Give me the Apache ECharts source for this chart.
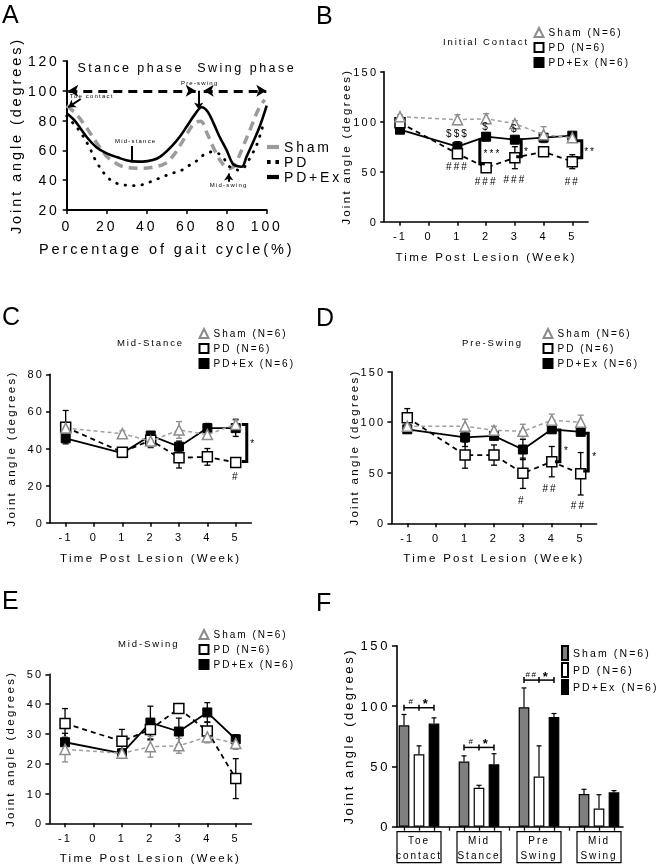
<!DOCTYPE html>
<html><head><meta charset="utf-8">
<script src="https://cdn.jsdelivr.net/npm/echarts@6/dist/echarts.min.js"></script>
<style>
html,body{margin:0;padding:0;background:#fff;}
#chart{width:660px;height:866px;}
#chart svg{will-change:transform;}
#chart text{letter-spacing:0.2em;}
</style></head><body><div id="chart"></div>
<script>
// ================= DATA =================
// Panel A: joint angle over the gait cycle
const pctShamA = [0,5,10,15,20,25,30,37,44,49,53,57,61,64,67,70,74,78,81.5,84,88,92,96,99];
const angShamA = [90,84,75,65,56,51,48.5,48,49,51,56,64,73,78.5,79.5,72,60,51,48,50,62,75,88,94];
const pctPdA = [0,4,7,11,15,20,24,28,33,37,41,45,49,53.5,58,61,65,68.5,72.5,76,78.5,81.5,86,89,92,95,98];
const angPdA = [83,77,72,63,52,42.5,38.5,37,36.3,36.7,38.5,40.6,42.8,45,47,49.7,53,57,59,57.8,54.7,49,46.8,49,55.8,63.6,76];
const pctExA = [0,4,10,15,20,25,32,38,43,47,53,57,60,64,67.5,70.5,73.5,76.5,80,83,85,87.5,90,93,96.5,100];
const angExA = [85,80,69,62,58,55.5,52.8,52.5,53.5,56,63.5,70,76,84,89,86,78,69,60,51,49.5,49,56,65,76,90];

// Panels B-E: weekly joint angles (mean, SEM)
const weekTicks = [-1,0,1,2,3,4,5];
const weeks = [-1,1,2,3,4,5];
const shamB = [105,102,103,98,87,84], shamErrB = [2,5,5,3,8,3];
const pdB   = [99,68,54,64,70,60],    pdErrB   = [3,3,3,11,4,7];
const exB   = [92,75,85,82,84,86],    exErrB   = [3,5,4,3,2,3];
const shamC = [51,48,44,50,47.5,53],  shamErrC = [2,1.5,3,4.5,2,3];
const pdC   = [51.5,38,44.5,35,35.5,32.5], pdErrC = [9,2,4,5.5,4.5,1.5];
const exC   = [45.5,37.5,47,41,51,51], exErrC = [2,2,2,3,2.5,4.5];
const shamD = [96,96,92,91,102,100],  shamErrD = [3,7,4,7,6,7];
const pdD   = [104.5,67.5,67.5,49.5,61,49], pdErrD = [9,13,10,15,15,21];
const exD   = [93,85,86.5,73,93,90.5], exErrD = [3,9,3,10,2,3];
const shamE = [24.8,23.5,25.7,26,29,26.8], shamErrE = [4.2,1.5,3.5,2.5,2,2];
const pdE   = [33.5,27.5,31.5,38.5,31,15],  pdErrE   = [5,4,3.5,1,3,6.7];
const exE   = [27.2,23.5,33.8,30.8,37.2,28.2], exErrE = [3,1.5,5.5,4.5,3.3,1.5];

// Panel F: bars
const catsF = ['Toe contact','Mid Stance','Pre Swing','Mid Swing'];
const shamF = [84,54,99,27],     shamErrF = [9,4.7,16,4];
const pdF   = [60,32.3,41.5,15], pdErrF   = [7,2,25.5,11.5];
const exF   = [85.5,51.7,91,28.5], exErrF = [4.7,8.8,2.8,1.4];

// Significance annotations (data coordinates)
const bracketsB = [[1.78,82,58,1],[3.22,82,65,-1],[5.33,81,64,-1]];
const bracketsC = [[5.39,53,33,-1]];
const bracketsD = [[4.28,92.3,61,-1],[5.26,89,51.8,-1]];
const notesB = [[1,88,'$$$'],[2,95,'$'],[3,93,'$'],[1,55,'###'],[2,40,'###'],[3,42,'###'],[5,40,'##'],[2.22,68.5,'***'],[3.42,70,'*'],[5.62,70,'**']];
const notesC = [[5.62,42.5,'*'],[5.0,25,'#']];
const notesD = [[4.52,72,'*'],[5.5,66,'*'],[2.96,23,'#'],[3.94,34.6,'##'],[4.92,18,'##']];
const sigF = [[0,98.6,'#','*'],[1,65.7,'#','*'],[2,121.5,'##','*']];
const textsA = [[32,115,'Stance phase',12.5],[90,115,'Swing phase',12.5],[66.5,105.5,'Pre-swing',6],[1.5,96.5,'Toe contact',6,'left'],[34.5,66,'Mid-stance',6],[81,36.5,'Mid-swing',6]];

// ================= CHART =================
const FONT = '"Liberation Sans", Arial, Helvetica, sans-serif';
const zip = (xs, ys) => xs.map((x, i) => [x, ys[i]]);
const chart = echarts.init(document.getElementById('chart'), null, {renderer: 'svg'});

function xAxisLine(grid, o) {
  return Object.assign({
    gridIndex: grid, type: 'value', position: 'bottom',
    axisLine: {show: true, onZero: false, lineStyle: {color: '#000', width: 1.6}},
    axisTick: {show: true, length: 4, lineStyle: {color: '#000', width: 1.5}},
    axisLabel: {color: '#000', fontFamily: FONT, fontSize: 11, margin: 9},
    splitLine: {show: false},
    nameLocation: 'middle', nameMoveOverlap: false,
    nameTextStyle: {color: '#000', fontFamily: FONT, fontSize: 11.5}
  }, o);
}
function yAxisLine(grid, o) {
  return Object.assign({
    gridIndex: grid, type: 'value', position: 'left',
    axisLine: {show: true, onZero: false, lineStyle: {color: '#000', width: 1.6}},
    axisTick: {show: true, length: 4, lineStyle: {color: '#000', width: 1.5}},
    axisLabel: {color: '#000', fontFamily: FONT, fontSize: 11, margin: 6},
    splitLine: {show: false},
    name: 'Joint angle (degrees)', nameLocation: 'middle', nameGap: 32, nameMoveOverlap: false,
    nameTextStyle: {color: '#000', fontFamily: FONT, fontSize: 11.5}
  }, o);
}
function weekX(grid) {
  return xAxisLine(grid, {
    min: -1.55, max: 5.55,
    axisTick: {show: true, length: 4, customValues: weekTicks, lineStyle: {color: '#000', width: 1.5}},
    axisLabel: {color: '#000', fontFamily: FONT, fontSize: 11, margin: 9, customValues: weekTicks},
    name: 'Time Post Lesion (Week)', nameGap: 29
  });
}

function errSeries(ax, xs, ys, es, color) {
  return {
    type: 'custom', xAxisIndex: ax, yAxisIndex: ax, silent: true, z: 1, clip: false,
    data: xs.map((x, i) => [x, ys[i] - es[i], ys[i] + es[i]]),
    renderItem: (p, api) => {
      const x = api.value(0);
      const a = api.coord([x, api.value(1)]), b = api.coord([x, api.value(2)]);
      const w = 3, st = {stroke: color, lineWidth: 1.3};
      return {type: 'group', children: [
        {type: 'line', shape: {x1: a[0], y1: a[1], x2: b[0], y2: b[1]}, style: st},
        {type: 'line', shape: {x1: a[0] - w, y1: a[1], x2: a[0] + w, y2: a[1]}, style: st},
        {type: 'line', shape: {x1: b[0] - w, y1: b[1], x2: b[0] + w, y2: b[1]}, style: st}
      ]};
    }
  };
}
function textSeries(ax, items) {
  return {
    type: 'custom', xAxisIndex: ax, yAxisIndex: ax, silent: true, z: 10, clip: false,
    data: items.map(t => [t[0], t[1]]),
    renderItem: (p, api) => {
      const t = items[p.dataIndex];
      const c = api.coord([api.value(0), api.value(1)]);
      return {type: 'text', x: c[0], y: c[1], style: {
        text: t[2], fill: '#000', font: 'normal ' + (t[3] || 10) + 'px ' + FONT,
        textAlign: t[4] || 'center', textVerticalAlign: 'middle'}};
    }
  };
}
function bracketSeries(ax, items) {
  return {
    type: 'custom', xAxisIndex: ax, yAxisIndex: ax, silent: true, z: 9, clip: false,
    data: items.map(t => [t[0], t[1], t[2]]),
    renderItem: (p, api) => {
      const d = items[p.dataIndex][3];
      const t = api.coord([api.value(0), api.value(1)]), b = api.coord([api.value(0), api.value(2)]);
      return {type: 'polyline', shape: {points: [[t[0] + 5 * d, t[1]], [t[0], t[1]], [b[0], b[1]], [b[0] + 5 * d, b[1]]]},
        style: {stroke: '#000', lineWidth: 3, fill: 'none', lineJoin: 'miter'}};
    }
  };
}
function panelSeries(P, ax, sham, shamE, pd, pdE, ex, exE) {
  return [
    errSeries(ax, weeks, ex, exE, '#000'),
    errSeries(ax, weeks, pd, pdE, '#000'),
    errSeries(ax, weeks, sham, shamE, '#8c8c8c'),
    {type: 'line', name: P + '|PD+Ex (N=6)', xAxisIndex: ax, yAxisIndex: ax, data: zip(weeks, ex),
      symbol: 'rect', symbolSize: 9, z: 3,
      itemStyle: {color: '#000', borderColor: '#000', borderWidth: 1},
      lineStyle: {color: '#000', width: 1.8}},
    {type: 'line', name: P + '|PD (N=6)', xAxisIndex: ax, yAxisIndex: ax, data: zip(weeks, pd),
      symbol: 'rect', symbolSize: 10, z: 4,
      itemStyle: {color: '#fff', borderColor: '#000', borderWidth: 1.5},
      lineStyle: {color: '#000', width: 1.8, type: [5, 4]}},
    {type: 'line', name: P + '|Sham (N=6)', xAxisIndex: ax, yAxisIndex: ax, data: zip(weeks, sham),
      symbol: 'triangle', symbolSize: 10, z: 5,
      itemStyle: {color: '#fff', borderColor: '#8c8c8c', borderWidth: 1.5},
      lineStyle: {color: '#a0a0a0', width: 1.5, type: [4, 3]}}
  ];
}
function lineLegend(P, left, top) {
  return {left: left, top: top, orient: 'vertical', itemWidth: 9, itemHeight: 9, itemGap: 4, padding: 0,
    selectedMode: false, formatter: n => n.split('|')[1],
    textStyle: {color: '#000', fontFamily: FONT, fontSize: 10},
    data: [{name: P + '|Sham (N=6)', icon: 'triangle'}, {name: P + '|PD (N=6)', icon: 'rect'}, {name: P + '|PD+Ex (N=6)', icon: 'rect'}]};
}

// F helpers
function errSeriesF(k, ys, es) {
  return {
    type: 'custom', xAxisIndex: 5, yAxisIndex: 5, silent: true, z: 3, clip: false,
    data: ys.map((y, i) => [i, y, y + es[i]]),
    renderItem: (p, api) => {
      const band = api.size([1, 0])[0];
      const a = api.coord([api.value(0), api.value(1)]), b = api.coord([api.value(0), api.value(2)]);
      const x = a[0] + k * band * 0.25, w = 2.5, st = {stroke: '#000', lineWidth: 1.2};
      return {type: 'group', children: [
        {type: 'line', shape: {x1: x, y1: a[1], x2: x, y2: b[1]}, style: st},
        {type: 'line', shape: {x1: x - w, y1: b[1], x2: x + w, y2: b[1]}, style: st}
      ]};
    }
  };
}
const sigSeriesF = {
  type: 'custom', xAxisIndex: 5, yAxisIndex: 5, silent: true, z: 8, clip: false,
  data: sigF.map(s => [s[0], s[1]]),
  renderItem: (p, api) => {
    const s = sigF[p.dataIndex];
    const band = api.size([1, 0])[0];
    const c = api.coord([api.value(0), api.value(1)]);
    const xs = c[0] - band * 0.25, xm = c[0], xe = c[0] + band * 0.25, y = c[1];
    const st = {stroke: '#000', lineWidth: 1.5};
    return {type: 'group', children: [
      {type: 'line', shape: {x1: xs, y1: y, x2: xe, y2: y}, style: st},
      {type: 'line', shape: {x1: xs, y1: y - 3, x2: xs, y2: y + 3}, style: st},
      {type: 'line', shape: {x1: xm, y1: y - 3, x2: xm, y2: y + 3}, style: st},
      {type: 'line', shape: {x1: xe, y1: y - 3, x2: xe, y2: y + 3}, style: st},
      {type: 'text', x: (xs + xm) / 2, y: y - 6, style: {text: s[2], fill: '#000', font: 'normal 8px ' + FONT, textAlign: 'center', textVerticalAlign: 'middle'}},
      {type: 'text', x: (xm + xe) / 2, y: y - 4, style: {text: s[3], fill: '#000', font: 'bold 13px ' + FONT, textAlign: 'center', textVerticalAlign: 'middle'}}
    ]};
  }
};

const letter = (t, l, tp) => ({text: t, left: l, top: tp, padding: 0,
  textStyle: {fontSize: 25, fontWeight: 'normal', fontFamily: FONT, color: '#000'}});
const subtitle = (t, l, tp) => ({text: t, left: l, top: tp, padding: 0,
  textStyle: {fontSize: 9.5, fontWeight: 'normal', fontFamily: FONT, color: '#000'}});

const option = {
  animation: false,
  backgroundColor: '#fff',
  title: [
    letter('A', 2, 1), letter('B', 316, 2), letter('C', 2, 303), letter('D', 316, 304),
    letter('E', 2, 587), letter('F', 316, 589),
    subtitle('Initial Contact', 443, 36), subtitle('Mid-Stance', 117, 337),
    subtitle('Pre-Swing', 462, 337), subtitle('Mid-Swing', 118, 638)
  ],
  legend: [
    {left: 267, top: 140, orient: 'vertical', itemWidth: 12, itemHeight: 12, itemGap: 1, padding: 0,
      selectedMode: false, formatter: n => n.split('|')[1],
      textStyle: {color: '#000', fontFamily: FONT, fontSize: 14},
      data: [{name: 'A|Sham', icon: 'path://M0,0h10v3.5h-10z'},
             {name: 'A|PD', icon: 'path://M0,0h3v3.5h-3z M7,0h3v3.5h-3z'},
             {name: 'A|PD+Ex', icon: 'path://M0,0h10v3.5h-10z'}]},
    lineLegend('B', 533.5, 27),
    lineLegend('C', 198.5, 328),
    lineLegend('D', 542.5, 328),
    lineLegend('E', 198.5, 629),
    {left: 561, top: 645, orient: 'vertical', itemWidth: 6, itemHeight: 14, itemGap: 1, padding: 0,
      selectedMode: false, icon: 'rect', formatter: n => n.split('|')[1],
      textStyle: {color: '#000', fontFamily: FONT, fontSize: 10.5},
      data: ['F|Sham (N=6)', 'F|PD (N=6)', 'F|PD+Ex (N=6)']}
  ],
  grid: [
    {left: 66.7, top: 61, width: 200, height: 149, outerBoundsMode: 'none'},
    {left: 384.2, top: 71.7, width: 203.9, height: 150, outerBoundsMode: 'none'},
    {left: 50.1, top: 374.3, width: 201.2, height: 148.4, outerBoundsMode: 'none'},
    {left: 391.4, top: 371.7, width: 205.2, height: 151.6, outerBoundsMode: 'none'},
    {left: 49.4, top: 674.3, width: 202, height: 149, outerBoundsMode: 'none'},
    {left: 389, top: 645.7, width: 240, height: 181, outerBoundsMode: 'none'},
    {left: 397, top: 645.7, width: 226, height: 181, outerBoundsMode: 'none'}
  ],
  xAxis: [
    xAxisLine(0, {min: 0, max: 100, interval: 20,
      axisLine: {show: true, onZero: false, lineStyle: {color: '#000', width: 2}},
      axisLabel: {color: '#000', fontFamily: FONT, fontSize: 14, margin: 9},
      name: 'Percentage of gait cycle(%)', nameGap: 31,
      nameTextStyle: {color: '#000', fontFamily: FONT, fontSize: 14.5}}),
    weekX(1), weekX(2), weekX(3), weekX(4),
    {gridIndex: 5, type: 'category', position: 'bottom', data: catsF,
      axisLine: {show: false}, axisTick: {show: false}, splitLine: {show: false},
      axisLabel: {interval: 0, formatter: v => v.replace(' ', '\n'), color: '#000', fontFamily: FONT,
        fontSize: 10, lineHeight: 14.5, borderColor: '#000', borderWidth: 1.2,
        padding: [2, 1, 0, 1], width: 42, align: 'center', overflow: 'none', margin: 5}},
    {gridIndex: 5, type: 'value', position: 'bottom', min: 0, max: 16,
      axisLine: {show: false}, axisLabel: {show: false}, splitLine: {show: false},
      axisTick: {show: true, length: 4, customValues: [1,2,3,4,5,6,7,8,9,10,11,12,13,14,15],
        lineStyle: {color: '#000', width: 1.3}}},
    {gridIndex: 6, type: 'value', position: 'bottom', min: 0, max: 1,
      axisLine: {show: true, onZero: false, lineStyle: {color: '#000', width: 1.6}},
      axisTick: {show: false}, axisLabel: {show: false}, splitLine: {show: false}}
  ],
  yAxis: [
    yAxisLine(0, {min: 20, max: 120, interval: 20,
      axisLine: {show: true, onZero: false, lineStyle: {color: '#000', width: 2}},
      axisLabel: {color: '#000', fontFamily: FONT, fontSize: 14, margin: 7},
      nameGap: 43, nameTextStyle: {color: '#000', fontFamily: FONT, fontSize: 14.5}}),
    yAxisLine(1, {min: 0, max: 150, interval: 50}),
    yAxisLine(2, {min: 0, max: 80, interval: 20, nameGap: 33}),
    yAxisLine(3, {min: 0, max: 150, interval: 50, nameGap: 31}),
    yAxisLine(4, {min: 0, max: 50, interval: 10, nameGap: 33}),
    {gridIndex: 5, type: 'value', min: 0, max: 150, show: false},
    yAxisLine(6, {min: 0, max: 150, interval: 50,
      axisTick: {show: true, length: 5, lineStyle: {color: '#000', width: 1.5}},
      axisLabel: {color: '#000', fontFamily: FONT, fontSize: 13, margin: 7},
      nameGap: 42, nameTextStyle: {color: '#000', fontFamily: FONT, fontSize: 13}})
  ],
  series: [
    // ---- Panel A ----
    {type: 'line', name: 'A|Sham', xAxisIndex: 0, yAxisIndex: 0, data: zip(pctShamA, angShamA),
      smooth: 0.35, symbol: 'none', z: 2, itemStyle: {color: '#9b9b9b'},
      lineStyle: {color: '#9b9b9b', width: 3.5, type: [9, 6]},
      markLine: {silent: true, symbol: ['arrow', 'arrow'], symbolSize: [9, 10], label: {show: false},
        lineStyle: {color: '#000', width: 3, type: [9, 6]},
        data: [[{coord: [0.8, 100]}, {coord: [64.5, 100]}], [{coord: [68.5, 100]}, {coord: [99.8, 100]}]]}},
    {type: 'line', name: 'A|PD', xAxisIndex: 0, yAxisIndex: 0, data: zip(pctPdA, angPdA),
      smooth: 0.35, symbol: 'none', z: 2, itemStyle: {color: '#000'},
      lineStyle: {color: '#000', width: 2.8, type: [0.5, 8], cap: 'round'}},
    {type: 'line', name: 'A|PD+Ex', xAxisIndex: 0, yAxisIndex: 0, data: zip(pctExA, angExA),
      smooth: 0.35, symbol: 'none', z: 3, itemStyle: {color: '#000'},
      lineStyle: {color: '#000', width: 2.6},
      markLine: {silent: true, symbol: ['none', 'arrow'], symbolSize: 7, label: {show: false},
        lineStyle: {color: '#000', width: 2, type: 'solid'},
        data: [
          [{coord: [66, 100]}, {coord: [66, 87.5]}],
          [{coord: [7, 94.5]}, {coord: [0.8, 89]}],
          [{coord: [32.5, 63], symbol: 'none'}, {coord: [32.5, 52], symbol: 'none'}],
          [{coord: [81, 39]}, {coord: [81, 44.5]}]
        ]}},
    textSeries(0, textsA.map(t => [t[0], t[1], t[2], t[3], t[4]])),
    // ---- Panels B-E ----
    ...panelSeries('B', 1, shamB, shamErrB, pdB, pdErrB, exB, exErrB),
    bracketSeries(1, bracketsB), textSeries(1, notesB.map(n => [n[0], n[1], n[2], 10])),
    ...panelSeries('C', 2, shamC, shamErrC, pdC, pdErrC, exC, exErrC),
    bracketSeries(2, bracketsC), textSeries(2, notesC.map(n => [n[0], n[1], n[2], 10])),
    ...panelSeries('D', 3, shamD, shamErrD, pdD, pdErrD, exD, exErrD),
    bracketSeries(3, bracketsD), textSeries(3, notesD.map(n => [n[0], n[1], n[2], 10])),
    ...panelSeries('E', 4, shamE, shamErrE, pdE, pdErrE, exE, exErrE),
    // ---- Panel F ----
    {type: 'bar', name: 'F|Sham (N=6)', xAxisIndex: 5, yAxisIndex: 5, data: shamF,
      barWidth: 10.7, barGap: '40%', itemStyle: {color: '#7f7f7f', borderColor: '#000', borderWidth: 1.2}},
    {type: 'bar', name: 'F|PD (N=6)', xAxisIndex: 5, yAxisIndex: 5, data: pdF,
      barWidth: 10.7, barGap: '40%', itemStyle: {color: '#fff', borderColor: '#000', borderWidth: 1.2}},
    {type: 'bar', name: 'F|PD+Ex (N=6)', xAxisIndex: 5, yAxisIndex: 5, data: exF,
      barWidth: 10.7, barGap: '40%', itemStyle: {color: '#000', borderColor: '#000', borderWidth: 1.2}},
    errSeriesF(-1, shamF, shamErrF), errSeriesF(0, pdF, pdErrF), errSeriesF(1, exF, exErrF),
    sigSeriesF
  ]
};
chart.setOption(option);
</script></body></html>
